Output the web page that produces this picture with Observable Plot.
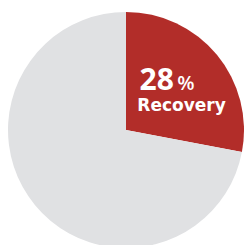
<!DOCTYPE html>
<html><head><meta charset="utf-8">
<script src="https://cdn.jsdelivr.net/npm/d3@7"></script>
<script src="https://cdn.jsdelivr.net/npm/@observablehq/plot@0.6"></script>
<style>html,body{margin:0;padding:0;background:#fff;overflow:hidden}</style>
</head><body><div id="chart"></div>
<script>
const categories = ["Recovery", "Other"];
const values = [28, 72];
const colors = ["#B22D29", "#E0E1E3"];
const labelValue = "28";
const labelUnit = "%";
const labelText = "Recovery";

const slices = categories.map((c, i) => ({category: c, value: values[i], color: colors[i]}));
const pie = d3.pie().sort(null).value(d => d.value)(slices);

function pieMark(index, scales, vals, dims, context) {
  const cx = scales.x(0), cy = scales.y(0);
  const r = scales.x(1) - scales.x(0);
  const arc = d3.arc().innerRadius(0).outerRadius(r);
  const g = d3.create("svg:g").attr("transform", `translate(${cx},${cy})`);
  g.selectAll("path").data(pie).join("path")
    .attr("d", arc)
    .attr("fill", d => d.data.color);
  return g.node();
}

const chart = Plot.plot({
  width: 244, height: 245,
  margin: 0,
  x: {domain: [-126/118, 118/118], axis: null},
  y: {domain: [-115/118, 130/118], axis: null},
  style: {background: "transparent"},
  marks: [
    pieMark,
    Plot.text([labelValue], {x: 0.11, y: 0.347, text: d => d, textAnchor: "start", lineAnchor: "bottom", fill: "white", fontSize: 30, fontWeight: 700, fontFamily: "Open Sans"}),
    Plot.text([labelUnit], {x: 0.43, y: 0.347, text: d => d, textAnchor: "start", lineAnchor: "bottom", fill: "white", fontSize: 20, fontWeight: 600, fontFamily: "Open Sans"}),
    Plot.text([labelText], {x: 0.092, y: 0.169, text: d => d, textAnchor: "start", lineAnchor: "bottom", fill: "white", fontSize: 17, fontWeight: 700, fontFamily: "DejaVu Sans"})
  ]
});
document.getElementById("chart").append(chart);
</script>
</body></html>
